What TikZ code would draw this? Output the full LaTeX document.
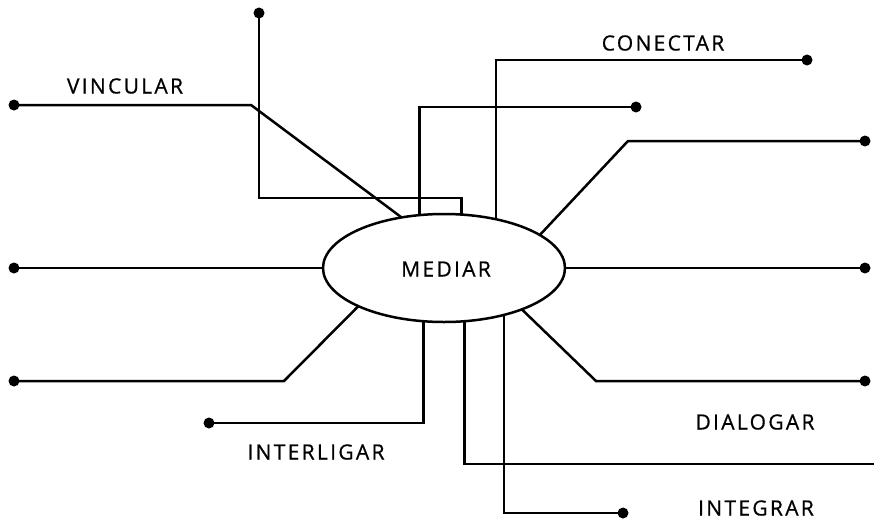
\documentclass[tikz,border=0pt]{standalone}
\usepackage{fontspec}
\setmainfont{Open Sans}[LetterSpace=11,FakeBold=0.7]
\usetikzlibrary{shapes.geometric}

\tikzset{
  dot/.style={circle,fill=black,inner sep=0pt,minimum size=11pt},
  word/.style={font=\fontsize{21}{24}\selectfont,inner sep=0pt},
}

\begin{document}
\begin{tikzpicture}[x=1pt,y=-1pt,line width=2.5pt]
		\useasboundingbox (0,0) rectangle (874,519);
		
		% centre
		\node[ellipse,draw,minimum width=242pt,minimum height=108pt,inner sep=0pt,outer sep=0pt] (med) at (444,268) {};
		\node[word] (mediar) at (446,269) {MEDIAR};
		
		% end points
		\node[dot] (d1) at (259,13) {};
		\node[dot] (d2) at (14,105) {};
		\node[dot] (d3) at (636,107) {};
		\node[dot] (d4) at (807,60) {};
		\node[dot] (d5) at (865,141) {};
		\node[dot] (d6) at (865,268) {};
		\node[dot] (d7) at (14,268) {};
		\node[dot] (d8) at (14,381) {};
		\node[dot] (d9) at (209,423) {};
		\coordinate (e10) at (874,464);
		\node[dot] (d11) at (623,513) {};
		\node[dot] (d12) at (865,381) {};
		
		% connectors
		\draw (d1.center) -- ++(0,185) -| (med.72.4);
		\draw (d2.center) -- ++(237,0) -- (med.130.9);
		\draw (med.115.3) |- (d3.center);
		\draw (med.43.2) |- (d4.center);
		\draw (med.19.5) -- (628,141) -- (d5.center);
		\draw (med.east) -- (d6.center);
		\draw (d7.center) -- (med.west);
		\draw (d8.center) -- ++(270,0) -- (med.204.9);
		\draw (med.249.4) |- (d9.center);
		\draw (med.291.5) |- (e10);
		\draw (med.322.6) |- (d11.center);
		\draw (med.332.3) -- (596,381) -- (d12.center);
		
		% labels
		\node[word] (vinc) at (125,86) {VINCULAR};
		\node[word] (conec) at (663,43) {CONECTAR};
		\node[word] (inter) at (316,452) {INTERLIGAR};
		\node[word] (dial) at (755,422) {DIALOGAR};
		\node[word] (integ) at (756,508) {INTEGRAR};
	\end{tikzpicture}
\end{document}
